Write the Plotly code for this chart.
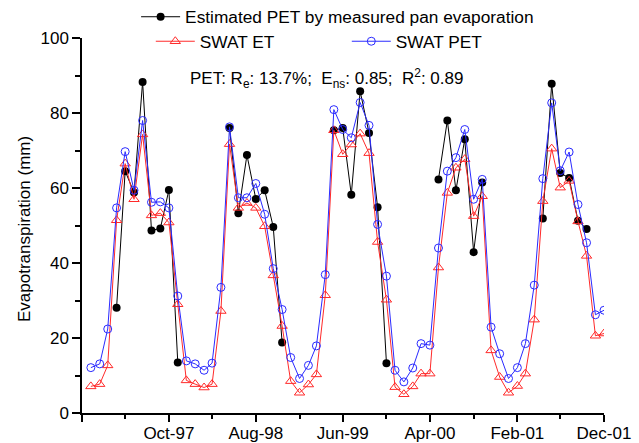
import plotly.graph_objects as go
import pandas as pd

months = [d.strftime("%Y-%m-%d") for d in pd.date_range("1997-01-01", periods=60, freq="MS")]

swat_pet = [12.1, 13.1, 22.4, 54.7, 69.7, 59.4, 78.0, 56.2, 56.3, 54.7, 31.2, 13.9,
            13.1, 11.4, 13.3, 33.5, 76.3, 57.4, 57.4, 61.2, 53.0, 38.5, 27.6, 14.8,
            9.2, 12.7, 17.9, 36.9, 80.9, 75.6, 73.4, 82.8, 76.7, 50.3, 36.5, 11.4,
            8.3, 12.0, 18.5, 18.1, 44.0, 64.5, 68.1, 75.6, 57.0, 62.3, 22.9, 15.8,
            9.2, 12.1, 18.5, 34.1, 62.5, 82.7, 64.6, 69.6, 55.6, 45.4, 26.2, 27.4]

swat_et = [7.1, 7.7, 12.7, 51.4, 66.5, 57.0, 74.3, 52.7, 53.3, 50.8, 29.0, 8.7,
           7.7, 6.8, 7.7, 27.2, 71.7, 54.7, 56.0, 54.7, 49.8, 36.7, 23.2, 8.5,
           5.4, 7.6, 10.3, 31.4, 75.4, 69.0, 71.6, 74.5, 69.3, 45.6, 30.2, 6.9,
           5.0, 7.1, 10.5, 10.5, 38.8, 58.7, 65.4, 67.7, 52.5, 57.8, 16.7, 9.6,
           5.4, 7.2, 10.5, 24.9, 56.5, 70.5, 60.1, 61.9, 51.1, 41.9, 20.6, 21.2]

est_pet = [None, None, None, 28.1, 64.5, 58.8, 88.3, 48.7, 49.2, 59.5, 13.5, None,
           None, None, None, None, 76.0, 53.3, 68.8, 57.1, 59.4, 49.6, 18.8, None,
           None, None, None, None, 75.4, 76.0, 58.2, 85.8, 74.7, 54.9, 13.3, None,
           None, None, None, None, 62.3, 78.0, 59.4, 73.0, 42.9, 61.5, None, None,
           None, None, None, None, 51.9, 87.8, 64.0, 62.7, 51.3, 49.1, None, None]

x_tickvals = ["1996-12-01", "1997-10-01", "1998-08-01", "1999-06-01",
              "2000-04-01", "2001-02-01", "2001-12-01"]
x_ticktext = ["", "Oct-97", "Aug-98", "Jun-99", "Apr-00", "Feb-01", "Dec-01"]
x_minorvals = ["1997-05-01", "1998-03-01", "1999-01-01", "1999-11-01",
               "2000-09-01", "2001-07-01"]

FONT = "Arial, Liberation Sans, sans-serif"

fig = go.Figure()
fig.add_trace(go.Scatter(
    x=months, y=est_pet, mode="lines+markers",
    name="Estimated PET by measured pan evaporation",
    line=dict(color="black", width=1),
    marker=dict(symbol="circle", size=8, color="black"),
    legend="legend", showlegend=True))
fig.add_trace(go.Scatter(
    x=months, y=swat_et, mode="lines+markers", name="SWAT ET",
    line=dict(color="#ff2a2a", width=1),
    marker=dict(symbol="triangle-up-open", size=9, color="#ff2a2a", line=dict(width=1)),
    legend="legend2", showlegend=True))
fig.add_trace(go.Scatter(
    x=months, y=swat_pet, mode="lines+markers", name="SWAT PET",
    line=dict(color="#2a2aff", width=1),
    marker=dict(symbol="circle-open", size=8, color="#2a2aff", line=dict(width=1)),
    legend="legend2", showlegend=True))

fig.update_layout(
    width=639, height=443,
    margin=dict(l=82, r=35, t=38, b=30, autoexpand=False),
    showlegend=True,
    paper_bgcolor="white", plot_bgcolor="white",
    font=dict(family=FONT, size=17, color="black"),
    legend=dict(x=0.213, y=1 - 17 / 443, xref="container", yref="container",
                xanchor="left", yanchor="middle", bgcolor="rgba(0,0,0,0)",
                font=dict(size=17.3), tracegroupgap=0, itemwidth=39),
    legend2=dict(x=0.236, y=1 - 41.5 / 443, xref="container", yref="container",
                 xanchor="left", yanchor="middle", orientation="h",
                 bgcolor="rgba(0,0,0,0)", font=dict(size=17.3),
                 entrywidth=142, entrywidthmode="pixels", itemwidth=39),
    annotations=[
        dict(x=0.203, y=0.891, xref="paper", yref="paper", xanchor="left", yanchor="middle",
             text="PET: R<sub>e</sub>: 13.7%;  E<sub>ns</sub>: 0.85;  R<sup>2</sup>: 0.89",
             showarrow=False, font=dict(size=17)),
        dict(x=-0.109, y=0.491, xref="paper", yref="paper", xanchor="center", yanchor="middle",
             text="Evapotranspiration (mm)", textangle=-90,
             showarrow=False, font=dict(size=17)),
    ],
)

fig.update_xaxes(
    type="date", range=["1996-12-01", "2001-12-01"],
    tickmode="array", tickvals=x_tickvals, ticktext=x_ticktext,
    ticks="outside", ticklen=7, tickwidth=1.5, tickcolor="black",
    showline=True, linecolor="black", linewidth=1.5, showgrid=False, zeroline=False,
    tickfont=dict(size=17), automargin=False, ticklabelstandoff=-3,
    minor=dict(tickmode="array", tickvals=x_minorvals, ticks="outside",
               ticklen=4, tickwidth=1.5, tickcolor="black", showgrid=False))

fig.update_yaxes(
    range=[0, 100], tickmode="linear", tick0=0, dtick=20,
    ticks="outside", ticklen=8, tickwidth=1.5, tickcolor="black",
    showline=True, linecolor="black", linewidth=1.5, showgrid=False, zeroline=False,
    tickfont=dict(size=17), automargin=False,
    minor=dict(dtick=10, ticks="outside", ticklen=5, tickwidth=1.5,
               tickcolor="black", showgrid=False))

fig.write_html("out.html", config={"displayModeBar": False},
               post_script="document.body.style.margin='0px';")
